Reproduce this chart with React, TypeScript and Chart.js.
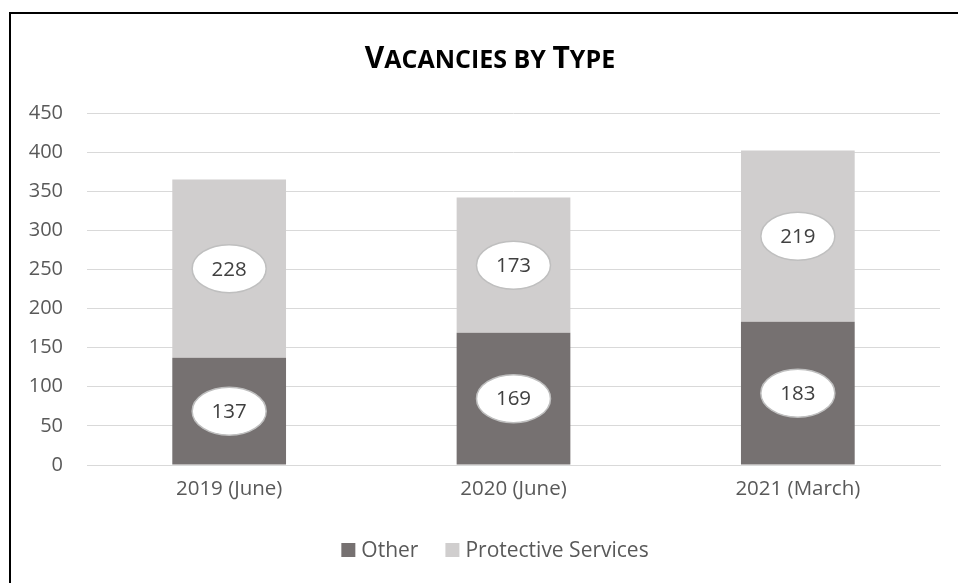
import { useEffect, useRef } from 'react';
import { Chart, registerables } from 'chart.js';

Chart.register(...registerables);

const categories = ['2019 (June)', '2020 (June)', '2021 (March)'];
const otherValues = [137, 169, 183];
const protectiveValues = [228, 173, 219];
const seriesNames = ['Other', 'Protective Services'];
const seriesColors = ['#767171', '#D0CECE'];
const yMin = 0;
const yMax = 450;
const yStep = 50;
const titleText = 'Vacancies by Type';

const FONT = '"Open Sans", "DejaVu Sans", sans-serif';

const decorPlugin = {
  id: 'decor',
  afterDatasetsDraw(chart: any) {
    const ctx = chart.ctx;
    ctx.save();
    chart.data.datasets.forEach((ds: any, di: number) => {
      const meta = chart.getDatasetMeta(di);
      meta.data.forEach((el: any, i: number) => {
        const { x, y, base } = el.getProps(['x', 'y', 'base'], true);
        const cy = (y + base) / 2;
        ctx.beginPath();
        ctx.ellipse(x, cy, 37, 24, 0, 0, Math.PI * 2);
        ctx.fillStyle = '#FFFFFF';
        ctx.fill();
        ctx.lineWidth = 1.5;
        ctx.strokeStyle = '#BFBFBF';
        ctx.stroke();
        ctx.fillStyle = '#404040';
        ctx.font = `20.5px ${FONT}`;
        ctx.textAlign = 'center';
        ctx.textBaseline = 'middle';
        ctx.fillText(String(ds.data[i]), x, cy + 1);
      });
    });
    ctx.restore();
  },
  afterDraw(chart: any) {
    const ctx = chart.ctx;
    ctx.save();
    // title in small caps
    const big = `bold 30px ${FONT}`;
    const small = `bold 25px ${FONT}`;
    const parts: { t: string; f: string }[] = [];
    for (const ch of titleText) {
      const isBig = ch !== ' ' && ch === ch.toUpperCase();
      parts.push({ t: ch.toUpperCase(), f: isBig ? big : small });
    }
    let total = 0;
    for (const p of parts) {
      ctx.font = p.f;
      total += ctx.measureText(p.t).width;
    }
    let tx = 490 - total / 2;
    ctx.fillStyle = '#000000';
    ctx.textBaseline = 'alphabetic';
    ctx.textAlign = 'left';
    for (const p of parts) {
      ctx.font = p.f;
      ctx.fillText(p.t, tx, 68);
      tx += ctx.measureText(p.t).width;
    }
    // legend
    ctx.font = `21px ${FONT}`;
    const box = 14;
    const gapBoxText = 6;
    const gapItems = 27;
    const widths = seriesNames.map((n) => box + gapBoxText + ctx.measureText(n).width);
    const legendW = widths.reduce((a, b) => a + b, 0) + gapItems * (seriesNames.length - 1);
    let lx = 495 - legendW / 2;
    const ly = 550;
    ctx.textBaseline = 'middle';
    seriesNames.forEach((n, i) => {
      ctx.fillStyle = seriesColors[i];
      ctx.fillRect(lx, ly - box / 2, box, box);
      ctx.fillStyle = '#595959';
      ctx.fillText(n, lx + box + gapBoxText, ly + 1);
      lx += widths[i] + gapItems;
    });
    // frame
    ctx.fillStyle = '#000000';
    ctx.fillRect(9, 12, 2, 583);
    ctx.fillRect(9, 12, 958, 2);
    ctx.restore();
  },
};

export default function App() {
  const ref = useRef<HTMLCanvasElement>(null);
  useEffect(() => {
    if (!ref.current) return;
    const chart = new Chart(ref.current, {
      type: 'bar',
      data: {
        labels: categories,
        datasets: [
          { label: seriesNames[0], data: otherValues, backgroundColor: seriesColors[0], categoryPercentage: 1, barPercentage: 0.4 },
          { label: seriesNames[1], data: protectiveValues, backgroundColor: seriesColors[1], categoryPercentage: 1, barPercentage: 0.4 },
        ],
      },
      options: {
        responsive: false,
        animation: false,
        layout: { padding: { left: 0, top: 113, right: 18, bottom: 0 } },
        plugins: { legend: { display: false }, title: { display: false }, tooltip: { enabled: false } },
        scales: {
          x: {
            stacked: true,
            grid: { display: false, drawTicks: false },
            border: { display: true, color: '#D9D9D9', width: 1 },
            ticks: { color: '#595959', font: { size: 20.5, family: FONT }, padding: 12 },
            afterFit: (s: any) => { s.height = 118; },
          },
          y: {
            stacked: true,
            min: yMin,
            max: yMax,
            grid: { color: '#D9D9D9', drawTicks: false },
            border: { display: false },
            ticks: { stepSize: yStep, color: '#595959', font: { size: 20, family: FONT }, padding: 24 },
            afterFit: (s: any) => { s.width = 87; },
          },
        },
      },
      plugins: [decorPlugin],
    });
    return () => chart.destroy();
  }, []);
  return (
    <div style={{ position: 'fixed', left: 0, top: 0, width: 958, height: 583, background: '#fff' }}>
      <canvas ref={ref} width={958} height={583} style={{ display: 'block' }} />
    </div>
  );
}
